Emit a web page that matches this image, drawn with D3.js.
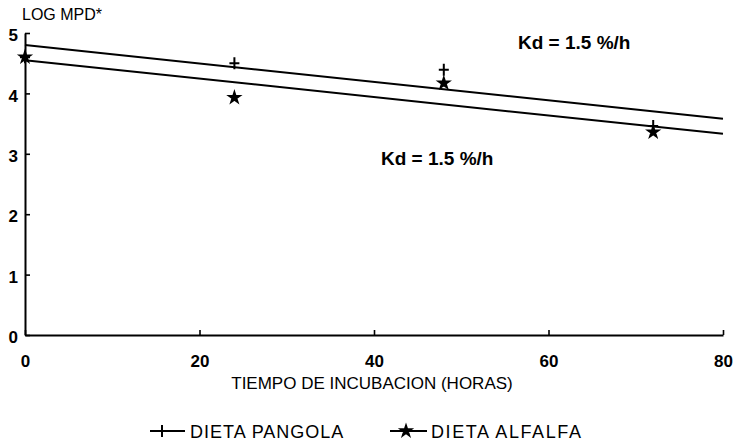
<!DOCTYPE html>
<html>
<head>
<meta charset="utf-8">
<script src="https://cdn.jsdelivr.net/npm/d3@7"></script>
<style>
  body { margin: 0; background: #fff; }
  text { font-family: "Liberation Sans", Arial, sans-serif; fill: #000; }
</style>
</head>
<body>
<div class="chart"></div>
<script>
// chart size
var svgWidth = 737;
var svgHeight = 444;
var margin = { top: 33, right: 14, bottom: 109, left: 25 };
var width = svgWidth - margin.left - margin.right;
var height = svgHeight - margin.top - margin.bottom;

// data
var hours = [0, 24, 48, 72];
var pangola = [4.6, 4.5, 4.39, 3.46];
var alfalfa = [4.6, 3.93, 4.17, 3.36];
// fitted lines, value at 0 h and 80 h
var lineHours = [0, 80];
var pangolaFit = [4.8, 3.58];
var alfalfaFit = [4.55, 3.33];
var xTicks = [0, 20, 40, 60, 80];
var yTicks = [0, 1, 2, 3, 4, 5];
var kdLabels = ["Kd = 1.5 %/h", "Kd = 1.5 %/h"];
var legendNames = ["DIETA PANGOLA", "DIETA ALFALFA"];

var svg = d3.select(".chart").append("svg")
  .attr("width", svgWidth)
  .attr("height", svgHeight);

var chart = svg.append("g")
  .attr("transform", "translate(" + margin.left + "," + margin.top + ")");

var x = d3.scaleLinear().domain([0, 80]).range([0, width]);
var y = d3.scaleLinear().domain([0, 5]).range([height, 0]);

// axes, ticks pointing inward
var bottomAxis = d3.axisBottom(x).tickValues(xTicks).tickFormat(d3.format("d"))
  .tickSizeInner(-5).tickSizeOuter(0).tickPadding(20);
var leftAxis = d3.axisLeft(y).tickValues(yTicks).tickFormat(d3.format("d"))
  .tickSizeInner(-5).tickSizeOuter(0).tickPadding(7);

var gx = chart.append("g").attr("transform", "translate(0," + height + ")").call(bottomAxis);
var gy = chart.append("g").call(leftAxis);
[gx, gy].forEach(function(g) {
  g.select(".domain").attr("stroke", "#000").attr("stroke-width", 2);
  g.selectAll(".tick line").attr("stroke", "#000").attr("stroke-width", 1.6);
  g.selectAll(".tick text")
    .style("font-family", '"Liberation Sans", Arial, sans-serif')
    .style("font-size", "17px").style("font-weight", "bold").attr("fill", "#000");
});
gy.selectAll(".tick text").attr("dy", "0.45em");

// fitted lines
var line = d3.line()
  .x(function(d) { return x(d[0]); })
  .y(function(d) { return y(d[1]); });

[pangolaFit, alfalfaFit].forEach(function(fit) {
  chart.append("path")
    .datum(lineHours.map(function(h, i) { return [h, fit[i]]; }))
    .attr("d", line)
    .attr("fill", "none")
    .attr("stroke", "#000")
    .attr("stroke-width", 2);
});

// markers
var plusPath = "M-5,0H5M0,-6V6";
var starSym = d3.symbol().type(d3.symbolStar).size(32);

chart.selectAll(".pangola").data(hours).enter().append("path")
  .attr("class", "pangola")
  .attr("transform", function(d, i) { return "translate(" + x(d) + "," + y(pangola[i]) + ")"; })
  .attr("d", plusPath)
  .attr("stroke", "#000").attr("stroke-width", 2).attr("fill", "none");

chart.selectAll(".alfalfa").data(hours).enter().append("path")
  .attr("class", "alfalfa")
  .attr("transform", function(d, i) { return "translate(" + x(d) + "," + y(alfalfa[i]) + ")"; })
  .attr("d", starSym)
  .attr("fill", "#000").attr("stroke", "#000").attr("stroke-width", 2);

// Kd annotations
chart.append("text")
  .attr("x", x(56.5)).attr("y", y(4.73))
  .style("font-size", "19px").style("font-weight", "bold")
  .text(kdLabels[0]);
chart.append("text")
  .attr("x", x(40.8)).attr("y", y(2.82))
  .style("font-size", "19px").style("font-weight", "bold")
  .text(kdLabels[1]);

// axis titles
svg.append("text")
  .attr("x", 22).attr("y", 20)
  .style("font-size", "16px")
  .text("LOG MPD*");

svg.append("text")
  .attr("x", margin.left + width / 2 - 2).attr("y", 389)
  .attr("text-anchor", "middle")
  .style("font-size", "17px")
  .text("TIEMPO DE INCUBACION (HORAS)");

// legend
var legend = svg.append("g").attr("transform", "translate(0,431)");
legend.append("line").attr("x1", 150).attr("x2", 185).attr("y1", 0).attr("y2", 0)
  .attr("stroke", "#000").attr("stroke-width", 2);
legend.append("path").attr("transform", "translate(162,0)").attr("d", plusPath)
  .attr("stroke", "#000").attr("stroke-width", 2);
legend.append("text").attr("x", 190).attr("y", 7)
  .style("font-size", "18px").style("letter-spacing", "1px").text(legendNames[0]);

legend.append("line").attr("x1", 390).attr("x2", 427).attr("y1", 0).attr("y2", 0)
  .attr("stroke", "#000").attr("stroke-width", 2);
legend.append("path").attr("transform", "translate(406,0)").attr("d", starSym)
  .attr("fill", "#000").attr("stroke", "#000").attr("stroke-width", 2);
legend.append("text").attr("x", 431).attr("y", 7)
  .style("font-size", "18px").style("letter-spacing", "1.6px").text(legendNames[1]);
</script>
</body>
</html>
